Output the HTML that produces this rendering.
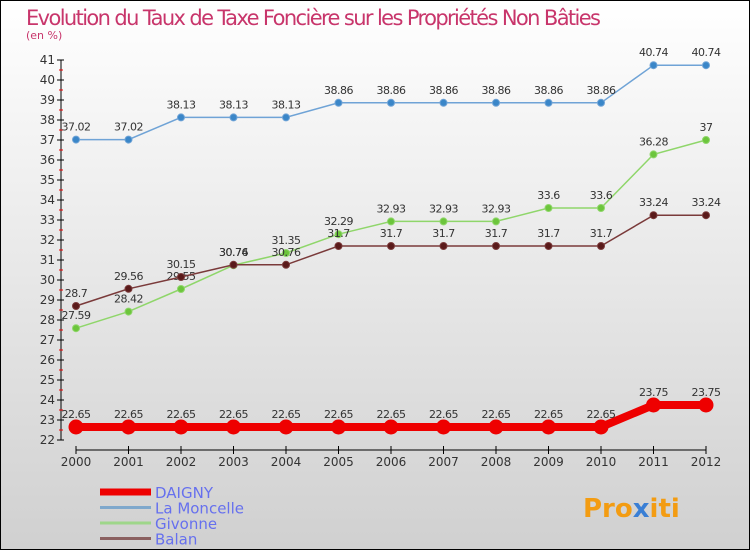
<!DOCTYPE html>
<html><head><meta charset="utf-8"><style>
body{margin:0}
svg{display:block;font-family:"DejaVu Sans","Liberation Sans",sans-serif}
</style></head><body>
<svg id="c" width="750" height="550" viewBox="0 0 750 550">
<defs><linearGradient id="bg" x1="0" y1="0" x2="0" y2="1"><stop offset="0" stop-color="#ffffff"/><stop offset="1" stop-color="#d0d0d0"/></linearGradient></defs>
<rect x="0.5" y="0.5" width="749" height="549" fill="url(#bg)" stroke="#000"/>
<text x="26" y="25" font-size="21" fill="#c8356b" textLength="575">Evolution du Taux de Taxe Foncière sur les Propriétés Non Bâties</text>
<text x="26" y="39" font-size="11" fill="#c8356b">(en %)</text>
<g id="axes"></g><g id="series"></g><g id="legend"></g>
<text x="583" y="517" font-size="26" font-weight="bold" fill="#f39c12">Pro<tspan fill="#3a7fd5">x</tspan><tspan fill="#f39c12">iti</tspan></text>
</svg>
<script>
const years=["2000","2001","2002","2003","2004","2005","2006","2007","2008","2009","2010","2011","2012"];
const yTicks=[22,23,24,25,26,27,28,29,30,31,32,33,34,35,36,37,38,39,40,41];
const daigny=[22.65,22.65,22.65,22.65,22.65,22.65,22.65,22.65,22.65,22.65,22.65,23.75,23.75];
const moncelle=[37.02,37.02,38.13,38.13,38.13,38.86,38.86,38.86,38.86,38.86,38.86,40.74,40.74];
const givonne=[27.59,28.42,29.55,30.74,31.35,32.29,32.93,32.93,32.93,33.6,33.6,36.28,37];
const balan=[28.7,29.56,30.15,30.76,30.76,31.7,31.7,31.7,31.7,31.7,31.7,33.24,33.24];
const NS="http://www.w3.org/2000/svg";
const X=i=>76+i*52.5;
const Y=v=>440-(v-22)*20;
function mk(t,a,p){const e=document.createElementNS(NS,t);for(const k in a)e.setAttribute(k,a[k]);p.appendChild(e);return e;}
const ax=document.getElementById('axes');
let e=mk('line',{x1:61,y1:Y(41),x2:61,y2:440,stroke:'#000'},ax);


yTicks.forEach(v=>{
  mk('line',{x1:57,y1:Y(v),x2:64,y2:Y(v),stroke:'#000'},ax);
  if(v<41)mk('line',{x1:59,y1:Y(v+0.5),x2:63,y2:Y(v+0.5),stroke:'#e00'},ax);
  const t=mk('text',{x:55,y:Y(v)+4,'font-size':12,'text-anchor':'end',fill:'#333'},ax);t.textContent=v;
  
  
});
e=mk('line',{x1:76,y1:450,x2:706,y2:450,stroke:'#000'},ax);


years.forEach((y,i)=>{
  mk('line',{x1:X(i),y1:446,x2:X(i),y2:454,stroke:'#000'},ax);
  const t=mk('text',{x:X(i),y:466,'font-size':12,'text-anchor':'middle',fill:'#333'},ax);t.textContent=y;
  
  
});
const sg=document.getElementById('series');
function draw(vals,color,fill,w,r,name){
  const g=mk('g',{},sg);
  
  
  mk('polyline',{points:vals.map((v,i)=>X(i)+','+Y(v)).join(' '),fill:'none',stroke:color,'stroke-width':w},g);
  vals.forEach((v,i)=>{
    const c=mk('circle',{cx:X(i),cy:Y(v),r:r,fill:fill,stroke:color,'stroke-width':1},g);
    
    
    const t=mk('text',{x:X(i),y:Y(v)-9,'font-size':11,'text-anchor':'middle',fill:'#333','letter-spacing':'-0.5'},g);t.textContent=v;
    
    
  });
}
draw(moncelle,'#6fa3d6','#3a86c8',1.5,3.5,'la-moncelle');
draw(givonne,'#8fd66a','#6cc53c',1.5,3.5,'givonne');
draw(balan,'#7a3a3a','#5a1a1a',1.5,3.5,'balan');
draw(daigny,'#ee0000','#ee0000',8,7,'daigny');
const lg=document.getElementById('legend');
const items=[["DAIGNY","#ee0000",7],["La Moncelle","#7fa8cc",3],["Givonne","#9ed68a",3],["Balan","#8a6060",3]];
items.forEach((it,i)=>{
  const yy=492+i*15.5;
  const g=mk('g',{},lg);
  
  
  mk('line',{x1:100,y1:yy,x2:151,y2:yy,stroke:it[1],'stroke-width':it[2]},g);
  const t=mk('text',{x:155,y:yy+6,'font-size':15,fill:'#6670ee'},g);t.textContent=it[0];
});
</script>
</body></html>
